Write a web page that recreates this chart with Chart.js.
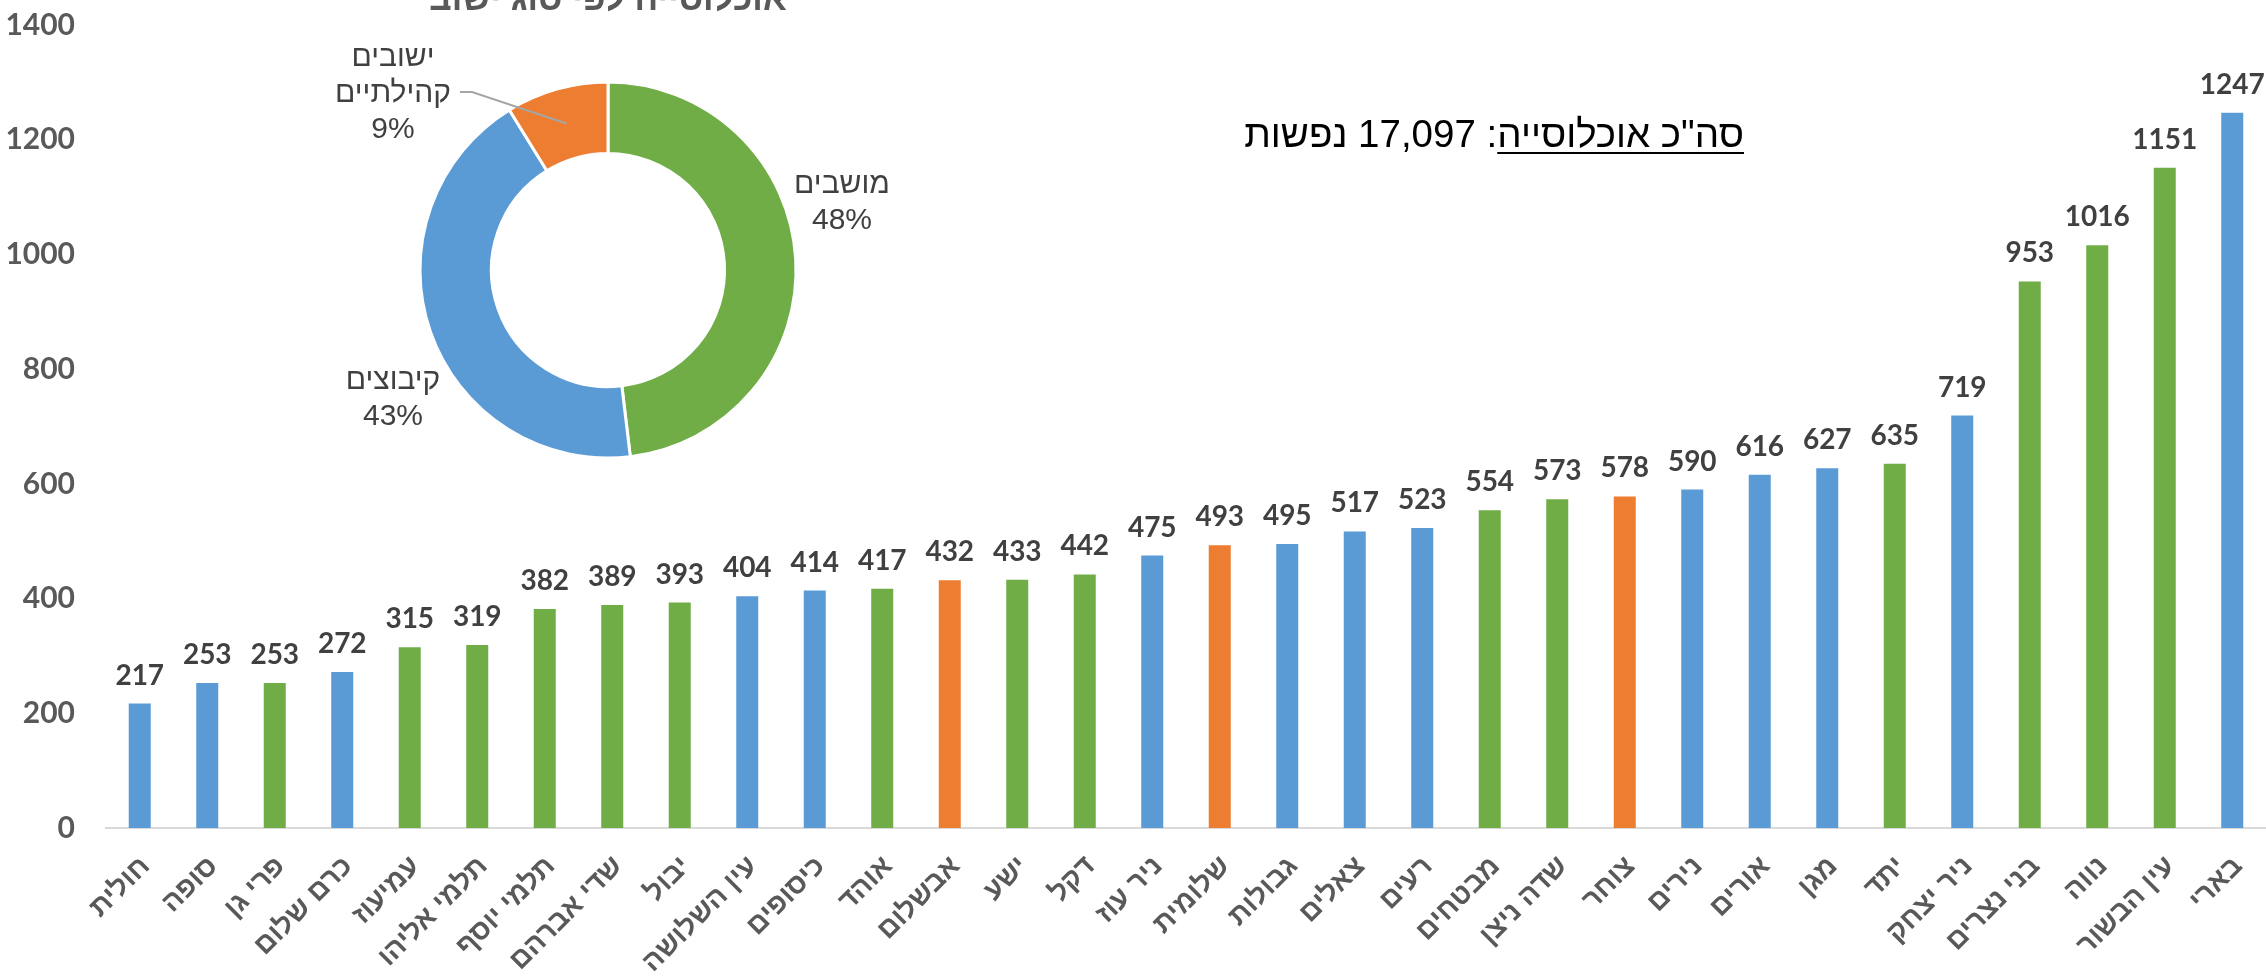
<!DOCTYPE html>
<html lang="he">
<head>
<meta charset="utf-8">
<script src="https://cdn.jsdelivr.net/npm/chart.js@4.4.1/dist/chart.umd.min.js"></script>
<style>
  html, body { margin: 0; padding: 0; background: #fff; }
  #wrap { position: relative; width: 2266px; height: 980px; overflow: hidden; background: #fff; }
  #bars { position: absolute; left: 0; top: 0; }
  #donut { position: absolute; left: 300px; top: 0; pointer-events: none; }
  #total { position: absolute; right: 522px; top: 112px; direction: rtl; white-space: nowrap;
           font-family: 'Liberation Sans', Arial, sans-serif; font-size: 38.5px; line-height: 44px; color: #000; }
  #total u { text-decoration-thickness: 2px; text-underline-offset: 5px; }
</style>
</head>
<body>
<div id="wrap">
  <canvas id="bars" width="2266" height="980"></canvas>
  <canvas id="donut" width="600" height="480"></canvas>
  <div id="total"></div>
</div>
<script>
// ---------- data ----------
const categories = ["חולית","סופה","פרי גן","כרם שלום","עמיעוז","תלמי אליהו","תלמי יוסף","שדי אברהם","יבול","עין השלושה","כיסופים","אוהד","אבשלום","ישע","דקל","ניר עוז","שלומית","גבולות","צאלים","רעים","מבטחים","שדה ניצן","צוחר","נירים","אורים","מגן","יתד","ניר יצחק","בני נצרים","נווה","עין הבשור","בארי"];
const population = [217,253,253,272,315,319,382,389,393,404,414,417,432,433,442,475,493,495,517,523,554,573,578,590,616,627,635,719,953,1016,1151,1247];
// k = kibbutz, m = moshav, c = community settlement
const settlementType = ["k","k","m","k","m","m","m","m","m","k","k","m","c","m","m","k","c","k","k","k","m","m","c","k","k","k","m","k","m","m","m","k"];
const typeOrder = ["m","k","c"];
const typeLabels = [["מושבים"],["קיבוצים"],["ישובים","קהילתיים"]];
const donutTitle = "אוכלוסייה לפי סוג ישוב";
const yTickValues = [0,200,400,600,800,1000,1200,1400];

const COLORS = { k: "#5B9BD5", m: "#70AD47", c: "#ED7D31" };
const typeTotals = typeOrder.map(t => population.reduce((s, v, i) => settlementType[i] === t ? s + v : s, 0));
const grandTotal = population.reduce((a, b) => a + b, 0);

// ---------- bar chart ----------
const valueLabels = {
  id: "valueLabels",
  afterDatasetsDraw(chart) {
    const ctx = chart.ctx;
    const meta = chart.getDatasetMeta(0);
    ctx.save();
    ctx.font = "bold 28px Lato, 'Liberation Sans', sans-serif";
    ctx.fillStyle = "#404040";
    ctx.textAlign = "center";
    ctx.textBaseline = "alphabetic";
    meta.data.forEach((bar, i) => {
      ctx.fillText(String(population[i]), bar.x, bar.y - 19);
    });
    ctx.restore();
  }
};

new Chart(document.getElementById("bars"), {
  type: "bar",
  data: {
    labels: categories,
    datasets: [{
      data: population,
      backgroundColor: settlementType.map(t => COLORS[t]),
      borderWidth: 0,
      categoryPercentage: 0.326,
      barPercentage: 1
    }]
  },
  options: {
    responsive: false,
    animation: false,
    devicePixelRatio: 1,
    layout: { padding: { top: 25, left: 0, right: 0, bottom: 0 } },
    plugins: { legend: { display: false }, tooltip: { enabled: false }, title: { display: false } },
    scales: {
      x: {
        grid: { display: true, drawOnChartArea: false, drawTicks: false },
        border: { display: true, color: "#D9D9D9", width: 2 },
        ticks: {
          autoSkip: false, maxRotation: 45, minRotation: 45, padding: 22, labelOffset: 6,
          color: "#595959",
          font: { family: "'Liberation Sans', Arial, sans-serif", weight: "bold", size: 28 }
        },
        afterFit(s) { s.height = 152; s.paddingLeft = 0; s.paddingRight = 0; }
      },
      y: {
        min: yTickValues[0], max: yTickValues[yTickValues.length - 1],
        grid: { display: false, drawTicks: false },
        border: { display: false },
        afterBuildTicks(s) { s.ticks = yTickValues.map(v => ({ value: v })); },
        ticks: {
          padding: 31, color: "#595959",
          callback: v => String(v),
          font: { family: "Lato, 'Liberation Sans', sans-serif", weight: "bold", size: 30 }
        },
        afterFit(s) { s.width = 106; s.paddingTop = 0; s.paddingBottom = 0; }
      }
    }
  },
  plugins: [valueLabels]
});

// ---------- doughnut ----------
const donutLabels = {
  id: "donutLabels",
  afterDraw(chart) {
    const ctx = chart.ctx;
    const meta = chart.getDatasetMeta(0);
    const arc0 = meta.data[0];
    const cx = arc0.x, cy = arc0.y;
    const total = typeTotals.reduce((a, b) => a + b, 0);
    // label block centres relative to the ring centre (best-fit style placement)
    const spots = [{ dx: 234, dy: -67 }, { dx: -215, dy: 129 }, { dx: -215, dy: -176 }];
    ctx.save();
    ctx.font = "30px 'Liberation Sans', Arial, sans-serif";
    ctx.fillStyle = "#404040";
    ctx.textAlign = "center";
    ctx.textBaseline = "middle";
    typeLabels.forEach((lines, i) => {
      const all = lines.concat([Math.round(typeTotals[i] / total * 100) + "%"]);
      const n = all.length;
      all.forEach((t, j) => {
        ctx.fillText(t, cx + spots[i].dx, cy + spots[i].dy + (j - (n - 1) / 2) * 36);
      });
    });
    // leader line for the small slice
    const p = meta.data[2].getCenterPoint();
    ctx.strokeStyle = "#A6A6A6";
    ctx.lineWidth = 2;
    ctx.beginPath();
    ctx.moveTo(cx - 148, cy - 178);
    ctx.lineTo(cx - 136, cy - 178);
    ctx.lineTo(p.x, p.y);
    ctx.stroke();
    // title (cut off at the top in the original)
    ctx.font = "bold 35px 'Liberation Sans', Arial, sans-serif";
    ctx.fillStyle = "#595959";
    ctx.textBaseline = "alphabetic";
    ctx.fillText(donutTitle, cx, 10);
    ctx.restore();
  }
};

new Chart(document.getElementById("donut"), {
  type: "doughnut",
  data: {
    labels: typeLabels.map(l => l.join(" ")),
    datasets: [{
      data: typeTotals,
      backgroundColor: typeOrder.map(t => COLORS[t]),
      borderColor: "#ffffff",
      borderWidth: 3
    }]
  },
  options: {
    responsive: false,
    animation: false,
    devicePixelRatio: 1,
    rotation: 0,
    cutout: "62%",
    radius: 188,
    layout: { padding: { left: 120, right: 104, top: 82, bottom: 22 } },
    plugins: { legend: { display: false }, tooltip: { enabled: false } }
  },
  plugins: [donutLabels]
});

// ---------- total text ----------
document.getElementById("total").innerHTML =
  '<u>סה"כ אוכלוסייה</u>: ' + grandTotal.toLocaleString("en-US") + " נפשות";
</script>
</body>
</html>
